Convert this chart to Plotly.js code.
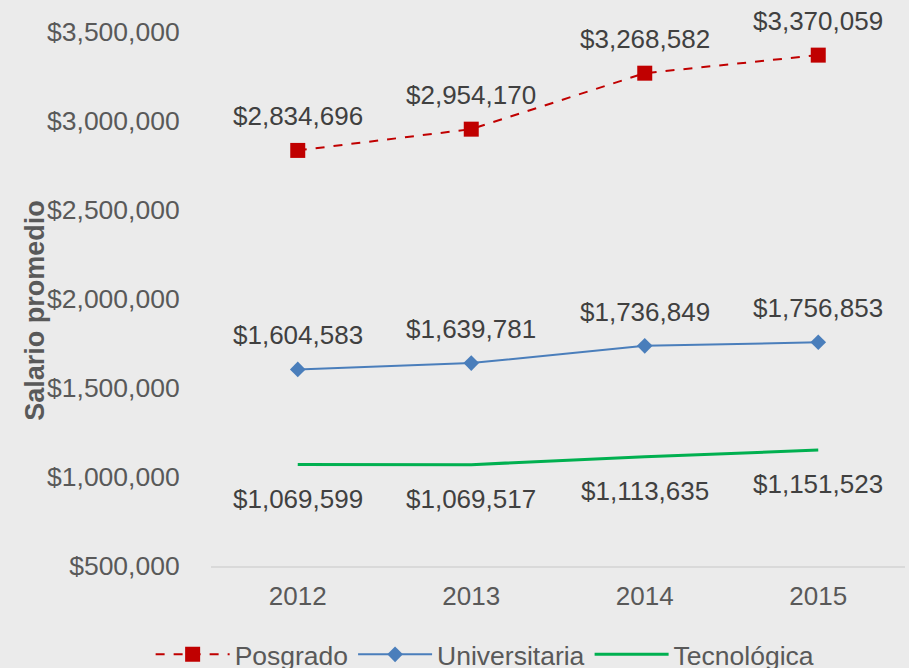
<!DOCTYPE html>
<html>
<head>
<meta charset="utf-8">
<script src="https://cdn.plot.ly/plotly-3.0.1.min.js"></script>
<style>html,body{margin:0;padding:0;background:#ebebeb;}#chart{width:909px;height:668px;}</style>
</head>
<body>
<div id="chart"></div>
<script>
var years = ['2012', '2013', '2014', '2015'];
var posgrado = [2834696, 2954170, 3268582, 3370059];
var universitaria = [1604583, 1639781, 1736849, 1756853];
var tecnologica = [1069599, 1069517, 1113635, 1151523];
var yTickVals = [500000, 1000000, 1500000, 2000000, 2500000, 3000000, 3500000];
var yTickText = ['$500,000', '$1,000,000', '$1,500,000', '$2,000,000', '$2,500,000', '$3,000,000', '$3,500,000'];

function fmt(v) {
  var s = String(v).replace(/\B(?=(\d{3})+(?!\d))/g, ',');
  return '$' + s;
}

var traces = [
  {x: years, y: posgrado, name: 'Posgrado', type: 'scatter', mode: 'lines+markers',
   line: {color: '#c00000', width: 2, dash: 'dash'}, marker: {symbol: 'square', size: 15, color: '#c00000'}},
  {x: years, y: universitaria, name: 'Universitaria', type: 'scatter', mode: 'lines+markers',
   line: {color: '#4a7ebb', width: 2}, marker: {symbol: 'diamond', size: 12, color: '#4a7ebb'}},
  {x: years, y: tecnologica, name: 'Tecnológica', type: 'scatter', mode: 'lines',
   line: {color: '#00b050', width: 3}}
];

var annotations = [];
function addLabels(vals, shift) {
  for (var i = 0; i < years.length; i++) {
    annotations.push({xref: 'x', yref: 'y', x: i, y: vals[i], text: fmt(vals[i]), showarrow: false, yshift: shift,
      font: {family: 'Liberation Sans, Arial, sans-serif', size: 26, color: '#404040'}});
  }
}
addLabels(posgrado, 34);
addLabels(universitaria, 34);
addLabels(tecnologica, -34);

annotations.push({xref: 'paper', yref: 'paper', x: -0.2536, y: 0.478, xanchor: 'center', yanchor: 'middle',
  text: '<b>Salario promedio</b>', textangle: -90, showarrow: false,
  font: {family: 'Liberation Sans, Arial, sans-serif', size: 27, color: '#595959'}});

var layout = {
  width: 909, height: 668,
  paper_bgcolor: '#ebebeb', plot_bgcolor: '#ebebeb',
  margin: {l: 211, r: 4, t: 32, b: 102, autoexpand: false},
  font: {family: 'Liberation Sans, Arial, sans-serif', size: 26, color: '#595959'},
  showlegend: true,
  legend: {orientation: 'h', x: 0.395, xanchor: 'center', y: -0.121, yanchor: 'top',
    itemwidth: 74,
    font: {size: 26.5, color: '#595959'}, bgcolor: 'rgba(0,0,0,0)', traceorder: 'normal'},
  xaxis: {type: 'category', range: [-0.5, 3.5], showgrid: false, zeroline: false,
    showline: true, linecolor: '#d9d9d9', linewidth: 2,
    ticks: 'outside', ticklen: 6, tickcolor: 'rgba(0,0,0,0)',
    tickfont: {size: 26, color: '#595959'}},
  yaxis: {range: [500000, 3500000], showgrid: false, zeroline: false, showline: false,
    tickvals: yTickVals, ticktext: yTickText,
    ticks: 'outside', ticklen: 25, tickcolor: 'rgba(0,0,0,0)',
    tickfont: {size: 26.5, color: '#595959'}},
  annotations: annotations
};

Plotly.newPlot('chart', traces, layout, {displayModeBar: false, staticPlot: true});
</script>
</body>
</html>
